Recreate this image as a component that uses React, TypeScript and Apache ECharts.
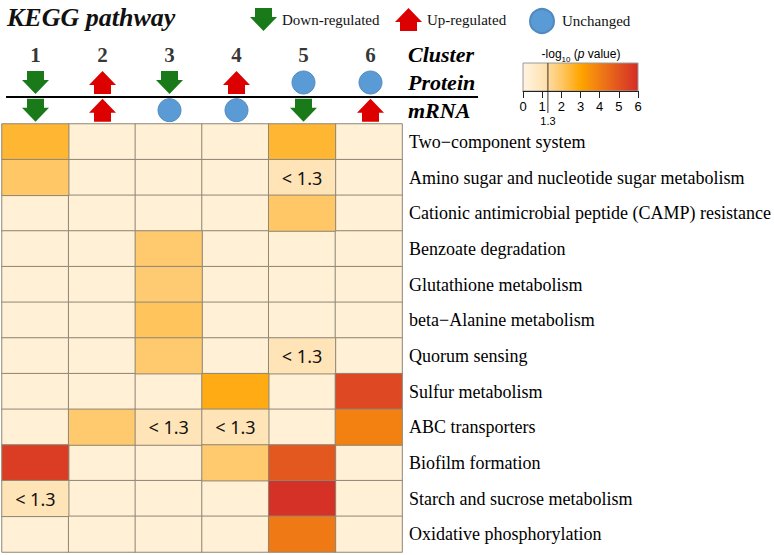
import { useEffect, useRef } from 'react';
import * as echarts from 'echarts';

const clusters = ['1', '2', '3', '4', '5', '6'];
const headerRows = ['mRNA', 'Protein', 'Cluster'];
const proteinState = ['down', 'up', 'down', 'up', 'none', 'none'];
const mrnaState = ['down', 'up', 'none', 'none', 'down', 'up'];
const stateNames: Record<string, string> = { down: 'Down-regulated', up: 'Up-regulated', none: 'Unchanged' };

const pathways = [
  'Two\u2212component system',
  'Amino sugar and nucleotide sugar metabolism',
  'Cationic antimicrobial peptide (CAMP) resistance',
  'Benzoate degradation',
  'Glutathione metabolism',
  'beta\u2212Alanine metabolism',
  'Quorum sensing',
  'Sulfur metabolism',
  'ABC transporters',
  'Biofilm formation',
  'Starch and sucrose metabolism',
  'Oxidative phosphorylation',
];

// -log10(p value) per pathway (rows) and cluster (columns); null = not enriched
const enrichment: (number | null)[][] = [
  [2.5, null, null, null, 2.5, null],
  [2.0, null, null, null, 1.0, null],
  [null, null, null, null, 2.0, null],
  [null, null, 1.9, null, null, null],
  [null, null, 1.85, null, null, null],
  [null, null, 2.1, null, null, null],
  [null, null, 1.9, null, 1.0, null],
  [null, null, null, 2.8, null, 5.3],
  [null, 1.9, 1.0, 1.0, null, 3.9],
  [5.6, null, null, 1.9, 4.9, null],
  [1.0, null, null, null, 5.9, null],
  [null, null, null, null, 4.1, null],
];

const threshold = 1.3;
const scaleMin = 0;
const scaleMax = 6;
const scaleTicks = [0, 1, 2, 3, 4, 5, 6];
const colorStops = ['#FFF4E2', '#FFE4B8', '#FFC766', '#FFA500', '#F07D14', '#E2541F', '#D42D28'];
const emptyColor = '#FFF0D6';

const SERIF = '"Times New Roman", "Liberation Serif", serif';
const SANS = 'Arial, "Liberation Sans", sans-serif';

const downPath = 'path://M5,0 L22,0 L22,9 L27,9 L13.5,23 L0,9 L5,9 Z';
const upPath = 'path://M13.5,0 L27,14 L22,14 L22,23 L5,23 L5,14 L0,14 Z';
const stateStyle: Record<string, any> = {
  down: { symbol: downPath, size: [27, 23], color: '#1A7A1A', border: '#1A7A1A' },
  up: { symbol: upPath, size: [27, 23], color: '#DD0000', border: '#DD0000' },
  none: { symbol: 'circle', size: 23, color: '#5B9BD5', border: '#4F89C0' },
};

export default function App() {
  const ref = useRef<HTMLDivElement>(null);
  useEffect(() => {
    const chart = echarts.init(ref.current!, null, { renderer: 'svg' });

    const valueCells: any[] = [];
    const emptyCells: any[] = [];
    enrichment.forEach((row, r) => {
      row.forEach((v, c) => {
        if (v === null) emptyCells.push([c, r, 0]);
        else valueCells.push([c, r, v]);
      });
    });

    const stateSeries = ['down', 'up', 'none'].map((st) => {
      const data: any[] = [];
      proteinState.forEach((s, i) => { if (s === st) data.push([i, 'Protein']); });
      mrnaState.forEach((s, i) => { if (s === st) data.push([i, 'mRNA']); });
      const sty = stateStyle[st];
      return {
        type: 'scatter',
        name: stateNames[st],
        xAxisIndex: 0,
        yAxisIndex: 0,
        symbol: sty.symbol,
        symbolSize: sty.size,
        itemStyle: { color: sty.color, borderColor: sty.border, borderWidth: st === 'none' ? 1 : 0, opacity: 1 },
        data,
        silent: true,
      };
    });

    const gradient = new echarts.graphic.LinearGradient(
      0, 0, 1, 0,
      colorStops.map((c, i) => ({ offset: i / (colorStops.length - 1), color: c }))
    );

    const legendBase = {
      top: 3,
      itemHeight: 23,
      textStyle: { fontFamily: SERIF, fontSize: 15, color: '#111' },
      selectedMode: false,
    };

    const option: any = {
      animation: false,
      backgroundColor: '#fff',
      title: {
        text: 'KEGG pathway',
        left: 2,
        top: -1,
        textStyle: { fontFamily: SERIF, fontWeight: 'bold', fontStyle: 'italic', fontSize: 26, color: '#111' },
      },
      legend: [
        { ...legendBase, left: 245, itemWidth: 27, data: [{ name: 'Down-regulated', icon: downPath }] },
        { ...legendBase, left: 390, itemWidth: 27, data: [{ name: 'Up-regulated', icon: upPath }] },
        { ...legendBase, left: 524, itemWidth: 30, itemHeight: 24, data: [{ name: 'Unchanged', icon: 'circle' }] },
      ],
      grid: [
        { left: 2, right: 370, top: 41, height: 83 },
        { left: 2, right: 370, top: 124, bottom: 3 },
        {
          left: 523, top: 63, width: 115, height: 28, show: true,
          backgroundColor: gradient, borderColor: '#9a9a9a', borderWidth: 1,
        },
      ],
      xAxis: [
        { gridIndex: 0, type: 'category', data: clusters, show: false },
        { gridIndex: 1, type: 'category', data: clusters, show: false },
        {
          gridIndex: 2, type: 'value', min: scaleMin, max: scaleMax, interval: 1,
          axisLine: { show: true, lineStyle: { color: '#222', width: 1 } },
          axisTick: { show: true, length: 7, lineStyle: { color: '#222' } },
          axisLabel: {
            fontFamily: SANS, fontSize: 13, color: '#000', margin: 9,
            formatter: (v: number) => (scaleTicks.includes(v) ? String(v) : ''),
          },
          splitLine: { show: false },
        },
      ],
      yAxis: [
        {
          gridIndex: 0, type: 'category', data: headerRows, position: 'right',
          axisLine: { show: false }, axisTick: { show: false }, splitLine: { show: false },
          axisLabel: {
            interval: 0, margin: 4, fontFamily: SERIF, fontSize: 22, fontWeight: 'bold', fontStyle: 'italic', color: '#000',
          },
        },
        {
          gridIndex: 1, type: 'category', data: pathways, inverse: true, position: 'right',
          axisLine: { show: false }, axisTick: { show: false }, splitLine: { show: false },
          axisLabel: { interval: 0, margin: 7, fontFamily: SERIF, fontSize: 18, color: '#000' },
        },
        { gridIndex: 2, type: 'value', min: 0, max: 1, show: false },
      ],
      visualMap: [
        {
          type: 'continuous', show: false, min: 0, max: 1, dimension: 2,
          seriesIndex: 0, inRange: { color: [emptyColor, emptyColor] },
        },
        {
          type: 'continuous', show: false, min: scaleMin, max: scaleMax, dimension: 2,
          seriesIndex: 1, inRange: { color: colorStops },
        },
      ],
      series: [
        {
          type: 'heatmap', xAxisIndex: 1, yAxisIndex: 1, data: emptyCells,
          itemStyle: { borderColor: '#8E8775', borderWidth: 1 },
          silent: true,
        },
        {
          type: 'heatmap', xAxisIndex: 1, yAxisIndex: 1, data: valueCells,
          itemStyle: { borderColor: '#8E8775', borderWidth: 1 },
          label: {
            show: true, fontFamily: '"Noto Sans", sans-serif', fontSize: 18, color: '#111',
            formatter: (p: any) => (p.value[2] < threshold ? '< ' + threshold : ''),
          },
          silent: true,
        },
        ...stateSeries,
        {
          type: 'scatter', xAxisIndex: 0, yAxisIndex: 0, symbolSize: 1,
          itemStyle: { color: 'rgba(0,0,0,0)' },
          data: clusters.map((c, i) => [i, 'Cluster']),
          label: {
            show: true, position: 'inside', fontFamily: SERIF, fontSize: 21, fontWeight: 'bold', color: '#000',
            formatter: (p: any) => clusters[p.value[0]],
          },
          silent: true,
        },
      ],
    };

    chart.setOption(option);

    const tp = chart.convertToPixel({ gridIndex: 2 } as any, [threshold, 0]) as number[];
    const tx = tp[0];
    chart.setOption({
      graphic: [
        { type: 'line', shape: { x1: 6, y1: 97, x2: 478, y2: 97 }, style: { stroke: '#000', lineWidth: 2 }, silent: true },
        { type: 'line', shape: { x1: tx, y1: 63, x2: tx, y2: 113 }, style: { stroke: '#333', lineWidth: 1 }, silent: true },
        {
          type: 'text', x: tx, y: 121,
          style: { text: String(threshold), fill: '#000', font: '11px ' + SANS, align: 'center', verticalAlign: 'middle' },
          silent: true,
        },
        {
          type: 'text', x: 581, y: 52,
          style: {
            text: '{a|-log}{s|10}{a| (}{i|p}{a| value)}',
            align: 'center', verticalAlign: 'middle',
            rich: {
              a: { fontFamily: SANS, fontSize: 12, color: '#000', lineHeight: 16, verticalAlign: 'bottom' },
              i: { fontFamily: SANS, fontSize: 12, color: '#000', fontStyle: 'italic', lineHeight: 16, verticalAlign: 'bottom' },
              s: { fontFamily: SANS, fontSize: 8, color: '#000', lineHeight: 12, verticalAlign: 'bottom', padding: [0, 0, -3, 0] },
            },
          },
          silent: true,
        },
      ],
    });

    return () => chart.dispose();
  }, []);
  return <div ref={ref} style={{ position: 'absolute', left: 0, top: 0, width: 774, height: 555 }} />;
}
